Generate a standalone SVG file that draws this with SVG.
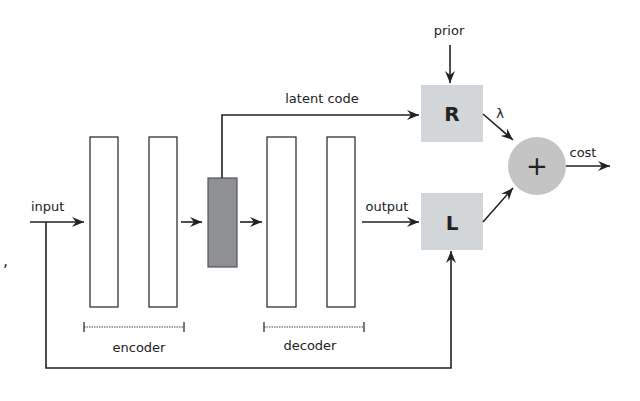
<svg xmlns="http://www.w3.org/2000/svg" width="640" height="401" viewBox="0 0 640 401">
<style>
text{font-family:"DejaVu Sans",sans-serif;font-size:13px;fill:#222}
.lay{fill:#fff;stroke:#222;stroke-width:1.2}
.box{fill:#d3d6d8}
.c{fill:none;stroke:#222;stroke-width:1.6}
.t{stroke:#444;stroke-width:1.2;stroke-dasharray:1.5 1;fill:none}
.tk{stroke:#222;stroke-width:1.2}
</style>
<defs><marker id="a" viewBox="0 0 12 10" refX="12" refY="5" markerWidth="12" markerHeight="10" markerUnits="userSpaceOnUse" orient="auto"><path d="M0,0L12,5L0,10L4,5Z" fill="#222"/></marker></defs>
<rect width="640" height="401" fill="#fff"/>
<text x="3" y="266" style="font-size:16px">,</text>
<g id="enc1"><rect class="lay" x="90" y="137" width="28" height="170"/></g>
<g id="enc2"><rect class="lay" x="149" y="137" width="28" height="170"/></g>
<g id="code"><rect x="208" y="178" width="29" height="89" fill="#8e9093" stroke="#555" stroke-width="1.2"/></g>
<g id="dec1"><rect class="lay" x="267" y="137" width="29" height="170"/></g>
<g id="dec2"><rect class="lay" x="327" y="137" width="28" height="170"/></g>
<g id="R"><rect class="box" x="421" y="85" width="62" height="57"/><text x="452" y="121" text-anchor="middle" style="font-size:20px;font-weight:bold">R</text></g>
<g id="L"><rect class="box" x="421" y="193" width="62" height="57"/><text x="452" y="230" text-anchor="middle" style="font-size:20px;font-weight:bold">L</text></g>
<g id="sum"><circle cx="537" cy="166" r="29" fill="#c4c4c4"/><text x="537" y="175" text-anchor="middle" style="font-size:26px">+</text></g>
<g id="enclabel"><path class="t" d="M84,327H184"/><path class="tk" d="M84,322V332M184,322V332"/><text x="139" y="352" text-anchor="middle">encoder</text></g>
<g id="declabel"><path class="t" d="M264,327H364"/><path class="tk" d="M264,322V332M364,322V332"/><text x="310" y="350" text-anchor="middle">decoder</text></g>
<g id="connectors">
<path class="c" d="M30,222H84" marker-end="url(#a)"/>
<path class="c" d="M46,222V368H451V251" marker-end="url(#a)"/>
<path class="c" d="M181,222H202" marker-end="url(#a)" stroke-width="1.2"/>
<path class="c" d="M240,222H262" marker-end="url(#a)" stroke-width="1.2"/>
<path class="c" d="M222,178V115H419" marker-end="url(#a)"/>
<path class="c" d="M362,222H419" marker-end="url(#a)"/>
<path class="c" d="M450,45V83" marker-end="url(#a)"/>
<path class="c" d="M483,114L513,140" marker-end="url(#a)"/>
<path class="c" d="M483,222L513,188" marker-end="url(#a)"/>
<path class="c" d="M566,166H610" marker-end="url(#a)"/>
</g>
<text x="31" y="211">input</text>
<text x="322" y="103" text-anchor="middle">latent code</text>
<text x="387" y="211" text-anchor="middle">output</text>
<text x="449" y="35" text-anchor="middle">prior</text>
<text x="500" y="118" text-anchor="middle">λ</text>
<text x="583" y="157" text-anchor="middle">cost</text>
</svg>
